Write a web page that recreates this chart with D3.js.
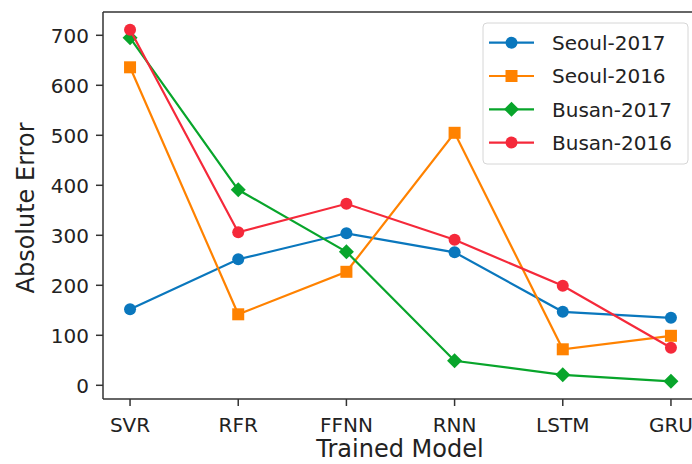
<!DOCTYPE html>
<html>
<head>
<meta charset="utf-8">
<script src="https://cdn.jsdelivr.net/npm/d3@7"></script>
<style>
  body { margin: 0; background: #fff; }
  text { font-family: "DejaVu Sans", sans-serif; fill: #222; }
</style>
</head>
<body>
<div id="chart"></div>
<script>
// datos
const models = ["SVR", "RFR", "FFNN", "RNN", "LSTM", "GRU"];
const seoul2017 = [152, 252, 304, 266, 147, 135];
const seoul2016 = [636, 142, 227, 505, 72, 99];
const busan2017 = [695, 391, 267, 49, 21, 8];
const busan2016 = [711, 306, 363, 291, 199, 75];
const seriesNames = ["Seoul-2017", "Seoul-2016", "Busan-2017", "Busan-2016"];
const yTicks = [0, 100, 200, 300, 400, 500, 600, 700];

const W = 692, H = 464;
const colors = ["#0a77bd", "#ff8200", "#08a52b", "#f5293a"];
const shapes = ["circle", "square", "diamond", "circle"];
const seriesValues = [seoul2017, seoul2016, busan2017, busan2016];

const svg = d3.select("#chart").append("svg")
  .attr("width", W).attr("height", H);

// ejes (el borde derecho queda fuera de la imagen)
const mLeft = 103, mRight = 698, mTop = 12, mBottom = 399;
const x = d3.scalePoint().domain(models).range([mLeft, mRight]).padding(0.25);
const y = d3.scaleLinear().domain([-27.4, 746.6]).range([mBottom, mTop]);

const axisColor = "#333";

// ticks y
yTicks.forEach(t => {
  svg.append("line")
    .attr("x1", mLeft - 7).attr("x2", mLeft)
    .attr("y1", y(t)).attr("y2", y(t))
    .attr("stroke", axisColor).attr("stroke-width", 1.5);
  svg.append("text")
    .attr("x", mLeft - 14).attr("y", y(t))
    .attr("dy", "0.36em")
    .attr("text-anchor", "end")
    .attr("font-size", 20)
    .text(t);
});

// ticks x
models.forEach(m => {
  svg.append("line")
    .attr("x1", x(m)).attr("x2", x(m))
    .attr("y1", mBottom).attr("y2", mBottom + 7)
    .attr("stroke", axisColor).attr("stroke-width", 1.5);
  svg.append("text")
    .attr("x", x(m)).attr("y", 432)
    .attr("text-anchor", "middle")
    .attr("font-size", 20)
    .text(m);
});

// marcos
svg.append("line").attr("x1", mLeft).attr("x2", mLeft).attr("y1", mTop).attr("y2", mBottom)
  .attr("stroke", axisColor).attr("stroke-width", 1.5);
svg.append("line").attr("x1", mLeft).attr("x2", mRight).attr("y1", mBottom).attr("y2", mBottom)
  .attr("stroke", axisColor).attr("stroke-width", 1.5);
svg.append("line").attr("x1", mLeft).attr("x2", mRight).attr("y1", mTop).attr("y2", mTop)
  .attr("stroke", axisColor).attr("stroke-width", 1.5);

// etiquetas de ejes
svg.append("text")
  .attr("x", 400).attr("y", 457)
  .attr("text-anchor", "middle")
  .attr("font-size", 24)
  .text("Trained Model");
svg.append("text")
  .attr("transform", "translate(34,208) rotate(-90)")
  .attr("text-anchor", "middle")
  .attr("font-size", 24)
  .text("Absolute Error");

function marker(g, shape, cx, cy, color) {
  if (shape === "circle") {
    g.append("circle").attr("cx", cx).attr("cy", cy).attr("r", 6).attr("fill", color);
  } else if (shape === "square") {
    g.append("rect").attr("x", cx - 6).attr("y", cy - 6)
      .attr("width", 12).attr("height", 12).attr("fill", color);
  } else {
    const s = 7.5;
    g.append("path")
      .attr("d", `M${cx},${cy - s}L${cx + s},${cy}L${cx},${cy + s}L${cx - s},${cy}Z`)
      .attr("fill", color);
  }
}

// series
const line = d3.line().x((d, i) => x(models[i])).y(d => y(d));
seriesValues.forEach((vals, k) => {
  const g = svg.append("g");
  g.append("path")
    .attr("d", line(vals))
    .attr("fill", "none")
    .attr("stroke", colors[k])
    .attr("stroke-width", 2.2);
  vals.forEach((v, i) => marker(g, shapes[k], x(models[i]), y(v), colors[k]));
});

// leyenda
const lg = svg.append("g");
lg.append("rect")
  .attr("x", 483).attr("y", 23)
  .attr("width", 205).attr("height", 141)
  .attr("rx", 4)
  .attr("fill", "#fff").attr("fill-opacity", 0.85)
  .attr("stroke", "#d6d6d6").attr("stroke-width", 1);
seriesNames.forEach((name, k) => {
  const ly = 42.7 + k * 33.3;
  lg.append("line")
    .attr("x1", 489).attr("x2", 534)
    .attr("y1", ly).attr("y2", ly)
    .attr("stroke", colors[k]).attr("stroke-width", 2.2);
  marker(lg, shapes[k], 511.5, ly, colors[k]);
  lg.append("text")
    .attr("x", 552).attr("y", ly)
    .attr("dy", "0.36em")
    .attr("font-size", 20)
    .text(name);
});
</script>
</body>
</html>
